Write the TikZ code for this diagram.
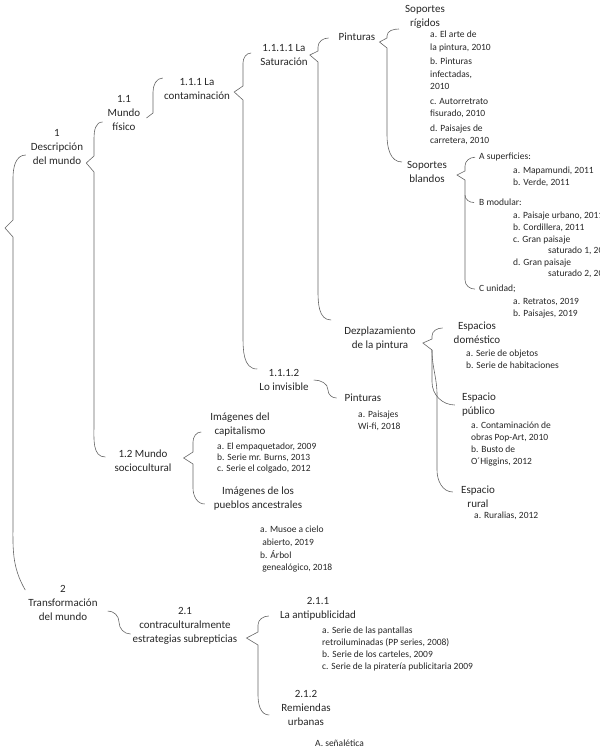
\documentclass[tikz,border=0pt]{standalone}
\usepackage{fontspec}
\setmainfont{Carlito}
\usetikzlibrary{positioning}

\begin{document}
\begin{tikzpicture}[x=1pt, y=1pt, font=\fontsize{11}{14}\selectfont, text=black!85,
  tx/.style={align=center, inner sep=1pt},
  it/.style={align=left, anchor=north west, inner sep=0pt, font=\fontsize{9.5}{12}\selectfont},
  br/.style={draw=black!60, line width=0.6pt}]
  \useasboundingbox (0,0) rectangle (600,-750);
  % 1 Descripcion del mundo
  \node[tx] (n1) at (57,-147) {1\\Descripción\\del mundo};
  \node[tx] (n11) at (124,-113) {1.1\\Mundo\\físico};
  \node[tx] (n111) at (197,-89) {1.1.1 La\\contaminación};
  \node[tx] (n1111) at (284,-55) {1.1.1.1 La\\Saturación};
  \node[tx] (pin1) at (357,-37) {Pinturas};
  \node[tx] (rig) at (425,-17) {Soportes\\rígidos};
  \node[it, font=\fontsize{9.5}{12.5}\selectfont] (rigI) at (430,-31) {a. El arte de\\la pintura, 2010\\[2pt]b. Pinturas\\infectadas,\\2010\\[2pt]c. Autorretrato\\fisurado, 2010\\[2pt]d. Paisajes de\\carretera, 2010};
  \node[tx] (bla) at (427,-172) {Soportes\\blandos};
  \node[it] (supH) at (479,-153) {A superficies:};
  \node[it] (supI) at (513,-167) {a. Mapamundi, 2011\\b. Verde, 2011};
  \node[it] (modH) at (479,-199) {B modular:};
  \node[it, font=\fontsize{9.5}{11.6}\selectfont] (modI) at (513,-212) {a. Paisaje urbano, 2011\\b. Cordillera, 2011\\c. Gran paisaje\\\hspace*{35pt}saturado 1, 2011\\d. Gran paisaje\\\hspace*{35pt}saturado 2, 2011};
  \node[it] (uniH) at (479,-285) {C unidad;};
  \node[it] (uniI) at (513,-298) {a. Retratos, 2019\\b. Paisajes, 2019};
  \node[tx] (dez) at (380,-339) {Dezplazamiento\\de la pintura};
  \node[tx] (dom) at (477,-333) {Espacios\\doméstico};
  \node[it] (domI) at (466,-350) {a. Serie de objetos\\b. Serie de habitaciones};
  \node[tx, align=left] (pub) at (479,-405) {Espacio\\público};
  \node[it] (pubI) at (471,-422) {a. Contaminación de\\obras Pop-Art, 2010\\b. Busto de\\O´Higgins, 2012};
  \node[tx] (rur) at (478,-497) {Espacio\\rural};
  \node[it] (rurI) at (474,-512) {a. Ruralias, 2012};
  \node[tx] (n1112) at (284,-380) {1.1.1.2\\Lo invisible};
  \node[tx] (pin2) at (363,-398) {Pinturas};
  \node[it] (pin2I) at (358,-411) {a. Paisajes\\Wi-fi, 2018};
  \node[tx] (n12) at (143,-461) {1.2 Mundo\\sociocultural};
  \node[tx] (cap) at (240,-425) {Imágenes del\\capitalismo};
  \node[it, font=\fontsize{9.5}{11}\selectfont] (capI) at (217,-443) {a. El empaquetador, 2009\\b. Serie mr. Burns, 2013\\c. Serie el colgado, 2012};
  \node[tx] (anc) at (258,-499) {Imágenes de los\\pueblos ancestrales};
  \node[it, font=\fontsize{9.5}{12.7}\selectfont] (ancI) at (260,-526) {a. Musoe a cielo\\\ abierto, 2019\\b. Árbol\\\ genealógico, 2018};
  % 2 Transformacion del mundo
  \node[tx] (n2) at (63,-603) {2\\Transformación\\del mundo};
  \node[tx] (n21) at (185,-626) {2.1\\contraculturalmente\\estrategias subrepticias};
  \node[tx] (n211) at (318,-609) {2.1.1\\La antipublicidad};
  \node[it] (antI) at (322,-627) {a. Serie de las pantallas\\retroiluminadas (PP series, 2008)\\b. Serie de los carteles, 2009\\c. Serie de la piratería publicitaria 2009};
  \node[tx] (n212) at (306,-708) {2.1.2\\Remiendas\\urbanas};
  \node[it] (sen) at (315,-740) {A. señalética};
  % braces
  \draw[br] ([shift={(-4,-8)}]n1.west) to[out=180,in=90] (13,-178) -- (13,-220) -- (5,-228) -- (13,-237) -- (13,-520) to[out=-90,in=120] ([shift={(-2,13)}]n2.west);
  \draw[br] ([shift={(-4,-9)}]n11.west) to[out=180,in=90] (94,-138) -- (94,-156) -- ([shift={(2,-16)}]n1.east) -- (94,-172) -- (94,-425) to[out=-90,in=180] ([shift={(-8,4)}]n12.west);
  \draw[br] ([shift={(0,11)}]n111.west) to[out=180,in=90] (153,-92) -- (153,-113) -- ([shift={(5,-5)}]n11.east);
  \draw[br] ([shift={(-8,2)}]n1111.west) to[out=180,in=90] (243,-63) -- (243,-86) -- ([shift={(3,-3)}]n111.east) -- (243,-100) -- (243,-335) to[out=-90,in=180] ([shift={(-1,11)}]n1112.west);
  \draw[br] ([shift={(-9,-1)}]pin1.west) to[out=180,in=90] (318,-47) -- (318,-51) -- ([shift={(1,0)}]n1111.east) -- (318,-62) -- (318,-290) to[out=-90,in=180] ([shift={(-12,19)}]dez.west);
  \draw[br] ([shift={(-5,-12)}]rig.west) to[out=180,in=90] (387,-36) -- (387,-38) -- ([shift={(3,-5)}]pin1.east) -- (387,-48) -- (387,-135) to[out=-90,in=180] ([shift={(-4,10)}]bla.west);
  \draw[br] ([xshift=-4pt]supH.west) to[out=180,in=90] (465,-166) -- (465,-171) -- ([shift={(9,-3)}]bla.east) -- (465,-180) -- (465,-195) to[out=-90,in=180] ([xshift=-5pt]modH.west);
  \draw[br] (465,-195) -- (465,-280) to[out=-90,in=180] ([xshift=-4pt]uniH.west);
  \draw[br] ([shift={(-10,5)}]dom.west) to[out=180,in=90] (432,-336) -- (432,-339) -- ([shift={(6,-4)}]dez.east) -- (432,-350) -- (432,-382) to[out=-90,in=180] ([xshift=-6pt]pub.west);
  \draw[br] (432,-350) to[out=-90,in=90] (437,-395) -- (437,-470) to[out=-90,in=180] ([shift={(-7,5)}]rur.west);
  \draw[br] ([xshift=4pt]n1112.east) to[out=0,in=90] (328,-390) to[out=-90,in=180] ([xshift=-7pt]pin2.west);
  \draw[br] ([shift={(-8,-7)}]cap.west) to[out=180,in=90] (193,-442) -- (193,-452) -- ([shift={(11,3)}]n12.east) -- (193,-464) -- (193,-488) to[out=-90,in=180] ([shift={(-8,-5)}]anc.west);
  \draw[br] ([shift={(9,-8)}]n2.east) to[out=0,in=90] (119,-622) to[out=-90,in=180] ([shift={(-1,-8)}]n21.west);
  \draw[br] ([shift={(-10,-7)}]n211.west) to[out=180,in=90] (258,-625) -- (258,-632) -- ([shift={(8,-12)}]n21.east) -- (258,-645) -- (258,-695) to[out=-90,in=180] ([shift={(-11,-7)}]n212.west);
\end{tikzpicture}
\end{document}
